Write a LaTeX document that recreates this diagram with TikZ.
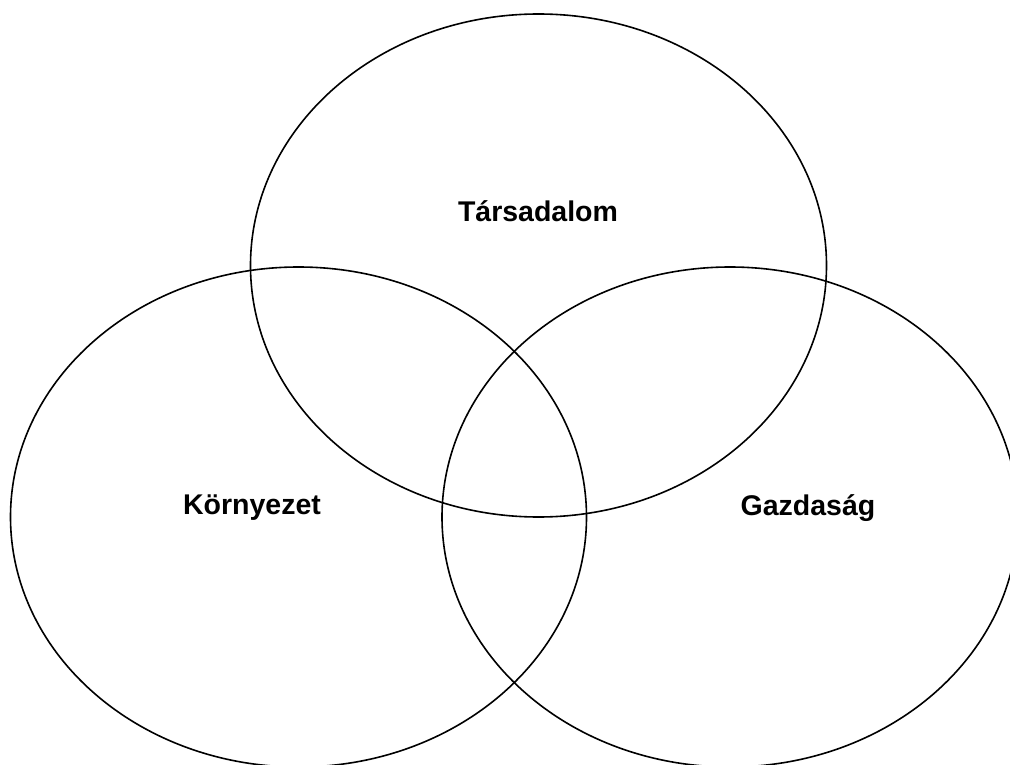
\documentclass[tikz,border=0pt]{standalone}
\usepackage{fontspec}
\setmainfont{Liberation Sans}
\begin{document}
\begin{tikzpicture}[x=1pt,y=-1pt,
  circ/.style={draw=black,line width=1.6pt},
  lbl/.style={font=\fontsize{28.5}{34}\selectfont\bfseries,inner sep=0pt}]
\useasboundingbox (0,0) rectangle (1010,765);
\draw[circ] (538.5,265.5) ellipse [x radius=288, y radius=251.5];
\draw[circ] (298.5,517) ellipse [x radius=288, y radius=250];
\draw[circ] (730,517) ellipse [x radius=288, y radius=250];
\node[lbl] (t) at (538,211) {Társadalom};
\node[lbl] (k) at (252,508) {Környezet};
\node[lbl] (g) at (808,508) {Gazdaság};
\end{tikzpicture}
\end{document}
